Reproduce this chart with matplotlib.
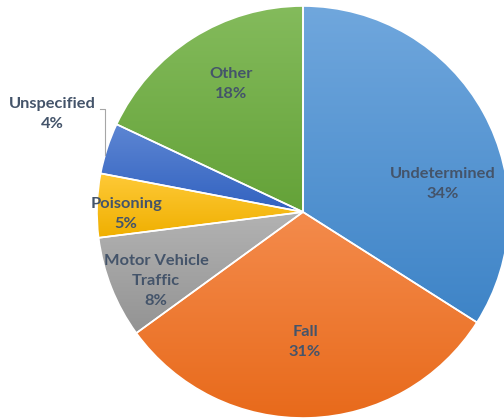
import matplotlib
matplotlib.use("Agg")
import matplotlib.pyplot as plt
import numpy as np
from matplotlib.colors import LinearSegmentedColormap

# data
labels = ["Undetermined", "Fall", "Motor Vehicle\nTraffic", "Poisoning", "Unspecified", "Other"]
values = [34, 31, 8, 5, 4, 18]
# gradient colours (top, bottom) per slice
tops = ["#70a7dd", "#f48b4c", "#b3b3b3", "#ffca38", "#5d86d3", "#84bb5c"]
bottoms = ["#3e84c7", "#e86a1b", "#939393", "#efaf00", "#3262c0", "#64a238"]

# label centres in pixel coords (x from left, y from top)
label_pos = [(443, 184), (305, 342), (156, 281), (126, 214), (52, 114), (231, 84)]

W, H = 504, 420
cx, cy, r = 303, 212, 206
text_color = "#44546a"

fig = plt.figure(figsize=(W / 100, H / 100), dpi=100)
ax = fig.add_axes([0, 0, 1, 1])
ax.set_xlim(0, W)
ax.set_ylim(0, H)
ax.set_aspect("equal")
ax.axis("off")

wedges, _ = ax.pie(values, startangle=90, counterclock=False,
                   center=(cx, H - cy), radius=r,
                   wedgeprops=dict(edgecolor="white", linewidth=1.2))

grad = np.linspace(0, 1, 256).reshape(-1, 1)
for w, c0, c1 in zip(wedges, tops, bottoms):
    bb = w.get_path().get_extents(w.get_patch_transform())
    cmap = LinearSegmentedColormap.from_list("g", [c0, c1])
    im = ax.imshow(grad, cmap=cmap, aspect="auto",
                   extent=(bb.x0, bb.x1, bb.y0, bb.y1), origin="upper", zorder=1)
    im.set_clip_path(w)
    w.set_facecolor("none")
    w.set_zorder(2)

for lab, v, (x, y) in zip(labels, values, label_pos):
    ax.text(x, H - y, f"{lab}\n{v}%", ha="center", va="center",
            fontsize=11.8, fontweight="bold", color=text_color,
            family=["Lato", "DejaVu Sans"], linespacing=1.55, zorder=3)

# leader line for Unspecified
ax.plot([100, 105, 105], [H - 109, H - 109, H - 155], color="#a6a6a6", lw=0.8, zorder=3)

ax.set_xlim(0, W)
ax.set_ylim(0, H)
fig.savefig("out.png", dpi=100)
